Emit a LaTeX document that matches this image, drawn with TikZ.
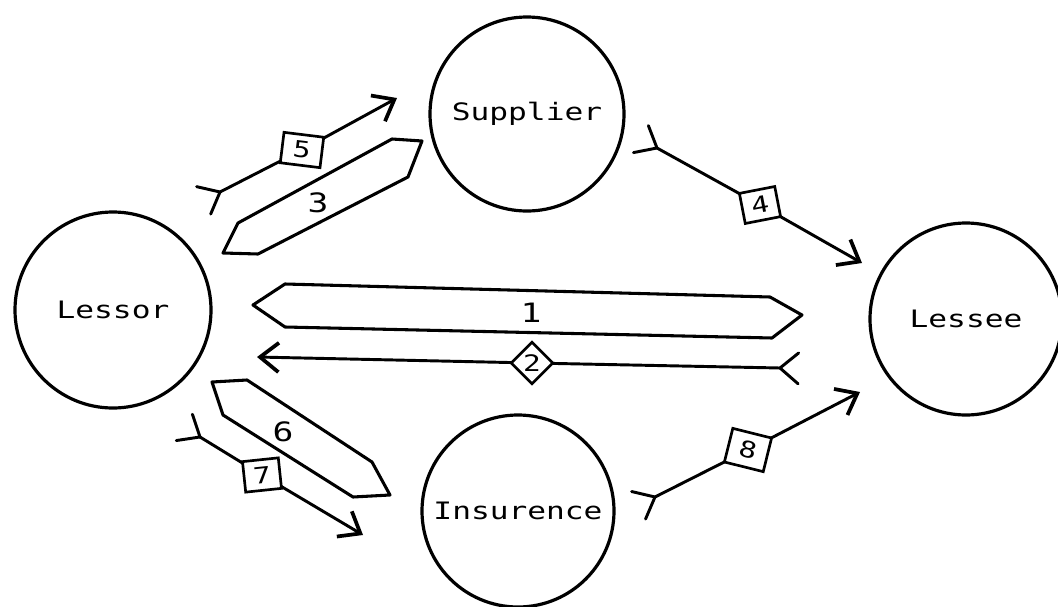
\documentclass[tikz,border=0pt]{standalone}
\usepackage{fontspec}
\newfontfamily\dotfont[FakeStretch=1.3]{DejaVu Sans Mono}
\usetikzlibrary{arrows.meta,calc}
\begin{document}
\begin{tikzpicture}[x=0.75pt,y=-0.75pt,
  party/.style={circle,draw,line width=2.4pt,inner sep=0pt,
    font=\dotfont\fontsize{18}{18}\selectfont},
  band/.style={draw,line width=2.3pt,line join=round},
  bandlabel/.style={font=\dotfont\fontsize{20}{20}\selectfont,inner sep=0pt},
  conn/.style={line width=2.2pt,-{Straight Barb[length=14pt,width=22pt,line width=2.8pt]}},
  tailarm/.style={line width=2.2pt,line cap=round},
  numbox/.style={draw,fill=white,line width=2pt,inner sep=0pt,
    minimum width=27pt,minimum height=23pt,
    font=\dotfont\fontsize{17}{17}\selectfont},
  numdiamond/.style={draw,fill=white,line width=2pt,inner sep=0pt,
    minimum size=22pt,rotate=45,
    font=\dotfont\fontsize{17}{17}\selectfont}
]
\useasboundingbox (0,0) rectangle (1058,607);
\fill[white] (0,0) rectangle (1058,607);

% parties
\node[party,minimum size=147pt] (lessor) at (113,310) {Lessor};
\node[party,minimum size=145.5pt] (supplier) at (527,114) {Supplier};
\node[party,minimum size=144pt] (lessee) at (966,319) {Lessee};
\node[party,minimum size=144pt] (insurence) at (518,511) {Insurence};

% bands (two-way flows)
\draw[band] (253,305) -- (285,284) -- (770,297) -- (802,315) -- (772,338) -- (285,327) -- cycle;
\node[bandlabel] (l1) at (531,313) {1};
\draw[band] (223,253) -- (258,254) -- (408,177) -- (422,141) -- (392,139) -- (238,223) -- cycle;
\node[bandlabel] (l3) at (318,203) {3};
\draw[band] (212,382) -- (247,380) -- (372,462) -- (390,495) -- (353,497) -- (223,415) -- cycle;
\node[bandlabel] (l6) at (283,432) {6};

% end points of single flows
\coordinate (t2) at (780,368); \coordinate (h2) at (257,357); \coordinate (c2) at (532,363);
\coordinate (t4) at (657,148); \coordinate (h4) at (862,263); \coordinate (c4) at (760,205);
\coordinate (t5) at (220,192); \coordinate (h5) at (397,98);  \coordinate (c5) at (302,150);
\coordinate (t7) at (200,437); \coordinate (h7) at (363,535); \coordinate (c7) at (262,475);
\coordinate (t8) at (655,497); \coordinate (h8) at (860,392); \coordinate (c8) at (748,450);

% connectors
\foreach \k in {2,4,5,7,8}{
  \draw[conn] (t\k) -- (c\k) -- (h\k);
  \draw[tailarm] ($(t\k)!18pt!140:(c\k)$) -- (t\k) -- ($(t\k)!18pt!-140:(c\k)$);
}

% number boxes
\node[numdiamond] (b2) at (c2) {\rotatebox{-45}{2}};
\node[numbox,rotate=11] (b4) at (c4) {4};
\node[numbox,rotate=-7,minimum width=30pt] (b5) at (c5) {5};
\node[numbox,rotate=6] (b7) at (c7) {7};
\node[numbox,rotate=-14,minimum width=30pt,minimum height=26pt] (b8) at (c8) {8};
\end{tikzpicture}
\end{document}
